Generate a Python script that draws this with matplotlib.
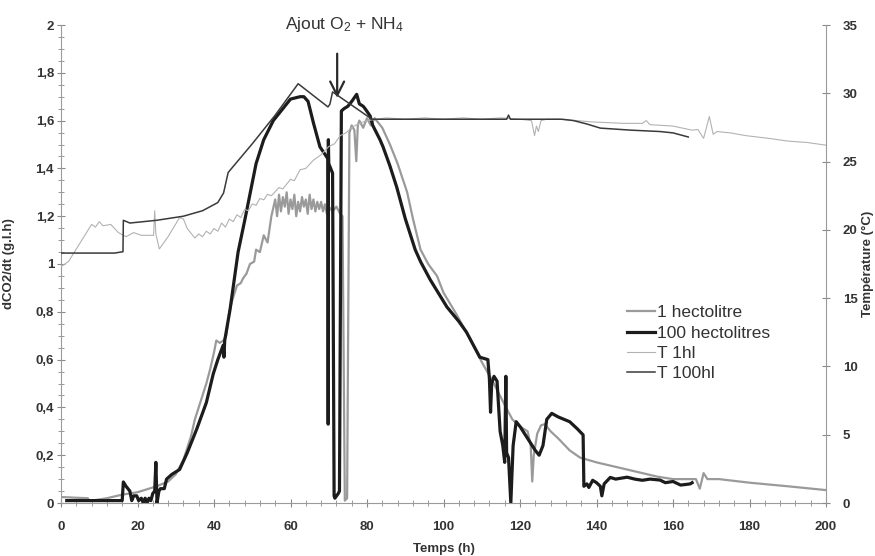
import numpy as np
import matplotlib as mpl
import matplotlib.pyplot as plt
from matplotlib.ticker import MultipleLocator, FuncFormatter

mpl.rcParams["font.family"] = ["Liberation Sans", "DejaVu Sans"]
mpl.rcParams["mathtext.fontset"] = "custom"
mpl.rcParams["mathtext.rm"] = "Liberation Sans"
mpl.rcParams["mathtext.default"] = "regular"

# dCO2/dt, 1 hectolitre
t_1hl = [0, 4, 7, 7.5, 8, 12, 16, 20, 25, 28, 30, 32, 34, 35, 36, 37, 38, 39, 40, 40.6, 41.5, 42.5, 43.2,
         44, 45, 46, 47, 47.6, 48.5, 49.4, 50.5, 51, 52, 53, 54, 55, 56, 56.5, 57, 57.5, 58, 58.5, 59, 59.5,
         60, 60.5, 61, 61.5, 62, 62.5, 63, 63.5, 64, 64.5, 65, 65.5, 66, 66.5, 67, 67.5, 68, 68.5, 69, 69.5,
         70, 71, 72, 73, 73.6, 74.2, 74.8, 75.4, 76, 76.7, 77.2, 77.6, 78, 79, 80, 81, 82, 83, 84, 86, 88,
         90.5, 92, 94, 96, 98.3, 100, 103, 106, 110, 113, 116, 118, 120, 122, 122.8, 123.2, 123.6, 124.5,
         125.5, 126.5, 128, 130, 133, 135.7, 140, 144, 148, 152, 156, 160, 166, 167, 168, 169, 172, 180,
         190, 200]
co2_1hl = [0.025, 0.022, 0.02, 0.008, 0.01, 0.02, 0.035, 0.045, 0.07, 0.09, 0.12, 0.18, 0.28, 0.35, 0.40,
           0.45, 0.50, 0.56, 0.63, 0.68, 0.67, 0.68, 0.70, 0.80, 0.86, 0.91, 0.92, 0.94, 0.96, 1.0, 1.01,
           1.06, 1.05, 1.12, 1.09, 1.2, 1.27, 1.20, 1.29, 1.22, 1.28, 1.24, 1.30, 1.21, 1.27, 1.23, 1.29,
           1.20, 1.26, 1.22, 1.28, 1.24, 1.27, 1.21, 1.29, 1.23, 1.27, 1.22, 1.26, 1.23, 1.26, 1.22, 1.25,
           1.21, 1.24, 1.22, 1.24, 1.21, 1.2, 0.01, 0.02, 1.55, 1.58, 1.56, 1.43, 1.58, 1.6, 1.57, 1.61,
           1.58, 1.61, 1.59, 1.57, 1.50, 1.42, 1.30, 1.19, 1.06, 1.0, 0.95, 0.88, 0.80, 0.715, 0.59, 0.505,
           0.41, 0.35, 0.32, 0.30, 0.24, 0.09, 0.2, 0.29, 0.325, 0.33, 0.30, 0.27, 0.22, 0.19, 0.17, 0.155,
           0.14, 0.125, 0.11, 0.10, 0.10, 0.06, 0.125, 0.10, 0.10, 0.085, 0.07, 0.054]

# dCO2/dt, 100 hectolitres
t_100hl = [1.5, 16, 16.3, 17, 18, 18.5, 19, 19.8, 20.3, 21, 21.5, 22, 22.5, 23, 23.5, 24, 24.5, 24.8, 25.1,
           25.6, 26, 27, 27.6, 29, 31, 33, 35.5, 38, 39.8, 41, 42.4, 42.6, 42.8, 44.2, 46.3, 48, 51, 53,
           55.5, 58, 60, 62.5, 63.5, 64.6, 66, 67.7, 69.8, 69.85, 69.9, 70.0, 71.0, 71.4, 71.6, 72.5, 72.8,
           73.3, 74, 75, 76, 77.3, 78, 79, 79.5, 80.8, 81.5, 83.4, 84.2, 86, 87.8, 90, 92.6, 94, 96.5,
           100.9, 104, 106, 109.5, 111.6, 112, 112.3, 112.6, 113.2, 114, 114.8, 115.5, 116, 116.3, 116.5,
           117, 117.6, 118.2, 119, 120, 122, 124, 125, 126, 127, 128.3, 130, 133, 135, 136.5, 136.7, 137.5,
           138, 139, 140, 141, 141.4, 142, 143.6, 145, 148, 150, 152, 154, 156.6, 158, 160, 162, 164.5, 165]
co2_100hl = [0.01, 0.01, 0.088, 0.07, 0.05, 0.01, 0.03, 0.03, 0.01, 0.02, 0.0, 0.02, 0.0, 0.02, 0.01, 0.04,
             0.05, 0.17, 0.0, 0.05, 0.06, 0.06, 0.1, 0.12, 0.14, 0.21, 0.31, 0.42, 0.54, 0.60, 0.66, 0.61,
             0.68, 0.81, 1.05, 1.18, 1.42, 1.52, 1.60, 1.65, 1.69, 1.70, 1.70, 1.68, 1.59, 1.49, 1.44, 0.33,
             1.52, 1.42, 1.38, 0.03, 0.02, 0.04, 0.05, 1.64, 1.65, 1.66, 1.68, 1.71, 1.67, 1.66, 1.65, 1.62,
             1.58, 1.52, 1.49, 1.41, 1.32, 1.19, 1.06, 1.01, 0.935, 0.82, 0.76, 0.715, 0.61, 0.60, 0.52,
             0.38, 0.50, 0.53, 0.51, 0.30, 0.24, 0.17, 0.53, 0.21, 0.19, 0.0, 0.24, 0.34, 0.32, 0.27, 0.22,
             0.20, 0.24, 0.35, 0.375, 0.36, 0.34, 0.31, 0.285, 0.07, 0.08, 0.065, 0.095, 0.085, 0.07, 0.03,
             0.08, 0.107, 0.10, 0.108, 0.10, 0.095, 0.10, 0.096, 0.085, 0.09, 0.075, 0.08, 0.085]

# temperature, 1 hl
tt_1hl = [0, 2, 4, 6, 8, 9, 10, 11, 13, 15, 17, 19, 21, 24.2, 24.5, 24.8, 25.7, 28, 31, 32, 33, 35, 36, 37,
          38, 39, 40, 41, 42, 43, 44, 45, 46, 47, 48, 49, 50, 51, 52, 53, 54, 55, 57, 58, 60, 61, 62.5, 64,
          66, 68, 70, 71.5, 73, 74.5, 76, 78, 80, 85, 90, 95, 100, 105, 110, 115, 120, 123, 123.8, 124.3,
          124.8, 125.5, 127, 130, 135, 139, 147, 152, 153, 154, 160, 165, 166.5, 168, 169.5, 170.5, 171.5,
          175, 179, 185, 190, 195, 200]
temp_1hl = [17.3, 17.7, 18.6, 19.5, 20.4, 20.2, 20.6, 20.3, 20.4, 19.8, 19.5, 19.8, 19.6, 19.6, 21.4, 19.7,
            18.6, 19.5, 20.9, 20.8, 20.1, 19.4, 19.7, 19.5, 19.9, 19.7, 20.1, 19.9, 20.5, 20.2, 20.8, 20.6,
            21.1, 20.9, 21.5, 21.4, 21.9, 21.8, 22.3, 22.2, 22.6, 22.5, 23.1, 23.0, 23.7, 23.6, 24.4, 24.5,
            25.1, 25.5, 26.1, 26.3, 26.9, 27.1, 27.5, 27.8, 28.0, 28.2, 28.1, 28.2, 28.1, 28.2, 28.1, 28.2,
            28.1, 28.0, 26.9, 27.6, 27.2, 28.0, 28.1, 28.1, 28.0, 27.9, 27.8, 27.8, 28.0, 27.7, 27.6, 27.3,
            27.35, 26.7, 28.3, 27.0, 27.2, 27.1, 26.9, 26.7, 26.5, 26.4, 26.2]

# temperature, 100 hl
tt_100hl = [0, 14, 16.2, 16.3, 18, 25, 32, 37, 41, 42.5, 43.7, 50, 56, 62, 69.8, 70.3, 71, 81.3, 100, 116.5,
            117, 117.5, 131, 134, 137.5, 141, 149, 156.6, 160, 164]
temp_100hl = [18.3, 18.3, 18.4, 20.7, 20.5, 20.7, 21.0, 21.4, 22.0, 22.7, 24.2, 26.3, 28.4, 30.7, 29.0,
              29.2, 30.1, 28.1, 28.1, 28.1, 28.4, 28.1, 28.1, 28.0, 27.75, 27.45, 27.3, 27.2, 27.1, 26.8]

TICK_COLOR = "#8a8a8a"
LABEL_COLOR = "#333333"

fig = plt.figure(figsize=(8.75, 5.56), dpi=100)
fig.subplots_adjust(left=61 / 875, right=826 / 875, bottom=1 - 503 / 556, top=1 - 25 / 556)
ax = fig.add_subplot(111)
ax2 = ax.twinx()

l1, = ax.plot(t_1hl, co2_1hl, color="#9a9a9a", lw=1.6, label="1 hectolitre")
l2, = ax.plot(t_100hl, co2_100hl, color="#1c1c1c", lw=2.3, label="100 hectolitres")
l3, = ax2.plot(tt_1hl, temp_1hl, color="#b2b2b2", lw=0.8, label="T 1hl")
l4, = ax2.plot(tt_100hl, temp_100hl, color="#3a3a3a", lw=1.1, label="T 100hl")

ax.set_xlim(0, 200)
ax.set_ylim(0, 2)
ax2.set_ylim(0, 35)

ax.xaxis.set_major_locator(MultipleLocator(20))
ax.xaxis.set_minor_locator(MultipleLocator(4))
ax.yaxis.set_major_locator(MultipleLocator(0.2))
ax.yaxis.set_minor_locator(MultipleLocator(0.05))
ax.yaxis.set_major_formatter(FuncFormatter(lambda v, _: f"{v:g}".replace(".", ",")))
ax2.yaxis.set_major_locator(MultipleLocator(5))

for a in (ax, ax2):
    a.spines["top"].set_visible(False)
    for s in a.spines.values():
        s.set_color("#9a9a9a")
        s.set_linewidth(0.8)
ax.spines["right"].set_visible(False)
ax2.spines["left"].set_visible(False)
ax2.spines["bottom"].set_visible(False)

tick_font = dict(labelsize=9.5, labelcolor=LABEL_COLOR, color=TICK_COLOR)
ax.tick_params(axis="x", which="major", direction="inout", length=6, pad=10, **tick_font)
ax.tick_params(axis="x", which="minor", direction="inout", length=4, color=TICK_COLOR)
ax.tick_params(axis="y", which="major", direction="inout", length=6, pad=2, **tick_font)
ax.tick_params(axis="y", which="minor", direction="inout", length=4, color=TICK_COLOR)
ax2.tick_params(axis="y", which="major", direction="inout", length=6, pad=9, **tick_font)
for lab in ax.get_xticklabels() + ax.get_yticklabels() + ax2.get_yticklabels():
    lab.set_fontweight("bold")

ax.set_xlabel("Temps (h)", fontsize=9.5, fontweight="bold", color=LABEL_COLOR)
ax.xaxis.set_label_coords(0.5, -0.084)
ax.set_ylabel("dCO2/dt (g.l.h)", fontsize=9.5, fontweight="bold", color=LABEL_COLOR)
ax.yaxis.set_label_coords(-0.06, 0.5)
ax2.set_ylabel("Température (°C)", fontsize=9.5, fontweight="bold", color=LABEL_COLOR)
ax2.yaxis.set_label_coords(1.047, 0.5)

# addition of O2 + NH4
ax.annotate("", xy=(72.2, 1.695), xytext=(72.2, 1.88),
            arrowprops=dict(arrowstyle="->,head_length=0.5,head_width=0.25", lw=1.6,
                            color="#2a2a2a", mutation_scale=20, shrinkA=0, shrinkB=0))
ax.text(74.2, 1.983, "Ajout O$_2$ + NH$_4$", ha="center", va="baseline", fontsize=12.5, color="#333333")

ax.legend(handles=[l1, l2, l3, l4], loc="upper left", bbox_to_anchor=(0.74, 0.414), frameon=False,
          borderpad=0, borderaxespad=0, handlelength=1.6, handletextpad=0.12, labelspacing=0.3,
          fontsize=12.5, labelcolor="#333333")

fig.savefig("out.png", dpi=100)
